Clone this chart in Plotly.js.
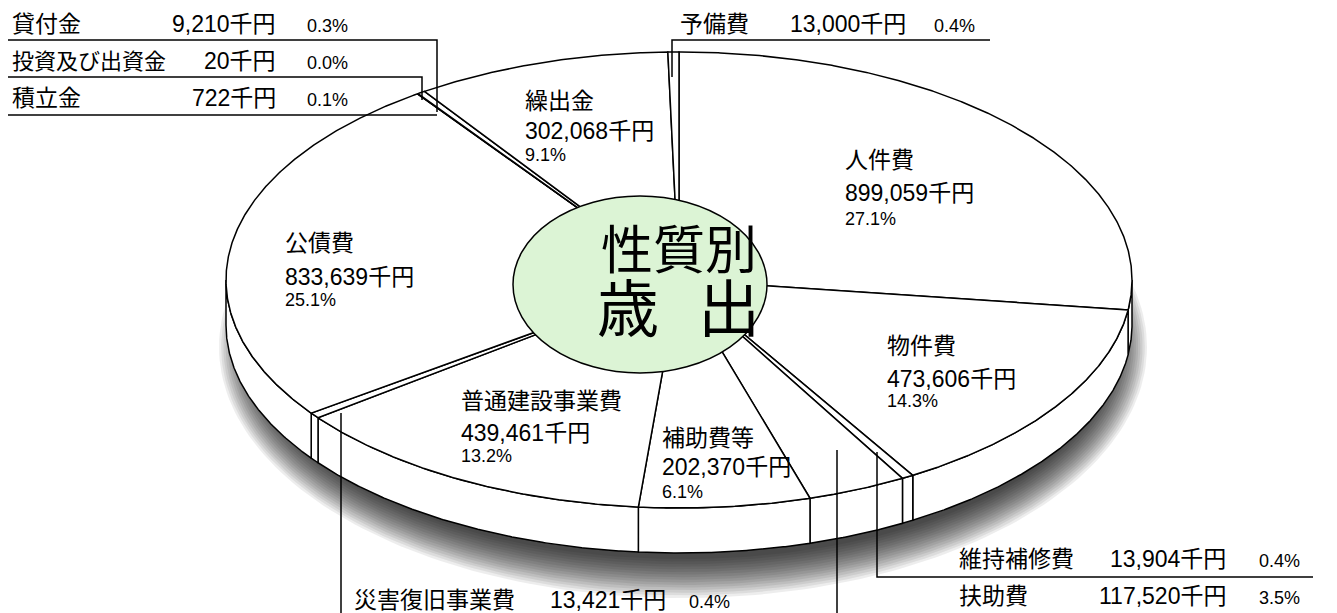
<!DOCTYPE html>
<html><head><meta charset="utf-8">
<script src="https://cdn.plot.ly/plotly-3.0.1.min.js"></script>
<style>html,body{margin:0;padding:0;background:#fff}</style>
</head><body><div id="chart" style="width:1337px;height:613px"></div>
<script>
// ---- data ----
const categories = ['人件費','物件費','維持補修費','扶助費','補助費等','普通建設事業費','災害復旧事業費','公債費','積立金','投資及び出資金','貸付金','繰出金','予備費'];
const amounts = [899059,473606,13904,117520,202370,439461,13421,833639,722,20,9210,302068,13000];
const percents = [27.1,14.3,0.4,3.5,6.1,13.2,0.4,25.1,0.1,0.0,0.3,9.1,0.4];
const unitLabel = '千円';
const centerTitle = ['性質別','歳','出'];

// ---- layout / style (not data) ----
const G = {cx:679, cy:280, a:453, b:228, t:45};
const FONT = "'Liberation Sans', 'Noto Sans CJK JP', sans-serif";
const total = amounts.reduce((s,v)=>s+v,0);
const pctText = p => p.toFixed(1) + '%';
const amtText = v => v.toLocaleString('en-US') + unitLabel;

// inner labels: [category index, x, yName, yValue, yPct]
const innerPos = [
  [0, 843, 160, 193, 219],
  [1, 885, 346, 379, 401],
  [4, 660, 438, 467, 492],
  [5, 459, 401, 433, 456],
  [7, 283, 243, 277, 300],
  [11, 523, 101, 131, 155]
];
// outer labels: [category index, xName, xValueRight, xPctLeft, y, nameSize]
const outerPos = [
  [10, 10, 278, 305, 24, 23],
  [9, 10, 278, 305, 61, 22],
  [8, 10, 278, 305, 98, 23],
  [12, 678, 908, 932, 24, 23],
  [2, 957, 1228, 1257, 559, 23],
  [3, 957, 1228, 1257, 596, 23],
  [6, 352, 668, 687, 600, 23]
];
const leaders = [
  [[990,40],[672,40],[672,77]],
  [[8,40],[437,40],[437,112]],
  [[8,77],[422,77],[422,100]],
  [[8,115],[437,115]],
  [[1313,577],[877,577],[877,452]],
  [[837,450],[837,640]],
  [[341,413],[341,640]]
];

function pt(th, dy){ return [G.cx + G.a*Math.sin(th), G.cy - G.b*Math.cos(th) + (dy||0)]; }
function arc(t1, t2, dy){
  const n = Math.max(2, Math.ceil(Math.abs(t2-t1)/(Math.PI/720)));
  const xs=[], ys=[];
  for(let k=0;k<=n;k++){ const p=pt(t1+(t2-t1)*k/n, dy); xs.push(p[0]); ys.push(p[1]); }
  return [xs, ys];
}

const traces = [];
// soft shadow under the disc
const NS = 16;
for(let i=NS-1;i>=0;i--){
  const ra = G.a - 22 + i*2.2, rb = G.b - 16 + i*2.6;
  const xs=[], ys=[];
  for(let k=0;k<=240;k++){ const th=2*Math.PI*k/240; xs.push(G.cx+4+ra*Math.sin(th)); ys.push(G.cy+G.t+22-rb*Math.cos(th)); }
  traces.push({x:xs,y:ys,mode:'lines',fill:'toself',fillcolor:'rgba(0,0,0,0.07)',line:{width:0},hoverinfo:'skip',showlegend:false});
}

// angles
const angles = [];
let acc = 0;
amounts.forEach(v=>{ const a1 = acc/total*2*Math.PI; acc += v; angles.push([a1, acc/total*2*Math.PI]); });

// sides
angles.forEach(([t1,t2],i)=>{
  const s = Math.max(t1, Math.PI/2), e = Math.min(t2, 1.5*Math.PI);
  if(s < e){
    const top = arc(s,e,0), bot = arc(e,s,G.t);
    traces.push({x:top[0].concat(bot[0],[top[0][0]]), y:top[1].concat(bot[1],[top[1][0]]),
      mode:'lines',fill:'toself',fillcolor:'#ffffff',line:{color:'#000',width:1.5},hoverinfo:'skip',showlegend:false,name:categories[i]});
  }
});
// tops
angles.forEach(([t1,t2],i)=>{
  const ar = arc(t1,t2,0);
  traces.push({x:[G.cx].concat(ar[0],[G.cx]), y:[G.cy].concat(ar[1],[G.cy]),
    mode:'lines',fill:'toself',fillcolor:'#ffffff',line:{color:'#000',width:1.5},hoverinfo:'skip',showlegend:false,name:categories[i]});
});

const shapes = [];
leaders.forEach(pts=>{
  let d = 'M' + pts.map(p=>p[0]+','+p[1]).join(' L');
  shapes.push({type:'path',xref:'x',yref:'y',path:d,line:{color:'#000',width:1.5},layer:'above'});
});
shapes.push({type:'circle',xref:'x',yref:'y',x0:513,x1:767,y0:196,y1:373,fillcolor:'#dcf4d5',line:{color:'#000',width:1.5},layer:'above'});

const ann = [];
function A(x,y,text,size,xanchor){
  ann.push({x:x,y:y,xref:'x',yref:'y',text:text,showarrow:false,xanchor:xanchor||'left',yanchor:'middle',
    font:{family:FONT,size:size,color:'#000'}});
}
innerPos.forEach(([i,x,y1,y2,y3])=>{
  A(x,y1,categories[i],23); A(x,y2,amtText(amounts[i]),23); A(x,y3,pctText(percents[i]),18);
});
outerPos.forEach(([i,xn,xv,xp,y,ns])=>{
  A(xn,y,categories[i],ns); A(xv,y,amtText(amounts[i]),23,'right'); A(xp,y+2,pctText(percents[i]),18);
});
A(679,251,centerTitle[0],52,'center');
A(628,310,centerTitle[1],62,'center');
A(729,310,centerTitle[2],62,'center');

const layout = {
  width:1337, height:613, margin:{l:0,r:0,t:0,b:0},
  paper_bgcolor:'#fff', plot_bgcolor:'#fff', showlegend:false,
  xaxis:{range:[0,1337],visible:false,fixedrange:true},
  yaxis:{range:[613,0],visible:false,fixedrange:true},
  shapes:shapes, annotations:ann
};
Plotly.newPlot('chart', traces, layout, {staticPlot:true, displayModeBar:false});
</script></body></html>
